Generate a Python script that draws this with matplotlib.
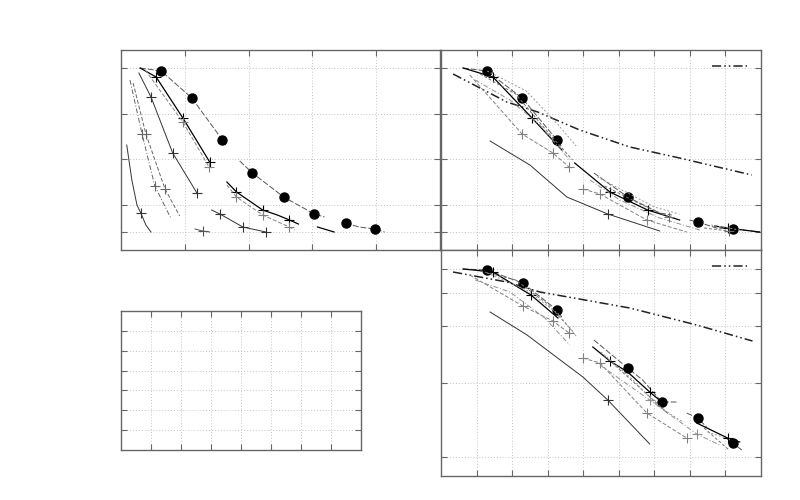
import numpy as np
import matplotlib
matplotlib.use("Agg")
import matplotlib.pyplot as plt

nan = np.nan

# ---------------- Panel A (top-left) ----------------
a_ticks_x = [1, 2, 3, 4]
a_ticks_y = [1.8, 4.5, 9.1, 13.6, 18.2]

a_dots_x = [0.30, 0.63, 1.11, 1.59, 1.64, nan, 1.86, 2.06, 2.55, 3.03, 3.19, nan, 3.52, 3.73, 3.98, 4.13]
a_dots_y = [18.2, 17.9, 15.2, 11.0, 10.5, nan, 8.9, 7.7, 5.3, 3.6, 3.3, nan, 2.7, 2.3, 2.1, 1.8]
a_dots_mk = [1, 2, 3, 7, 8, 9, 12, 14]

a_s2_x = [0.30, 0.55, 0.97, 1.39, nan, 1.66, 1.81, 2.22, 2.45, 2.64, 2.78, nan, 3.08, 3.34]
a_s2_y = [18.2, 17.3, 13.2, 8.8, nan, 6.8, 5.8, 4.0, 3.5, 3.0, 2.6, nan, 2.3, 1.8]
a_s2_mk = [1, 2, 3, 6, 7, 9]

a_s3_x = [0.38, 0.97, 1.38, nan, 1.66, 1.81, 2.22, 2.64, 2.72]
a_s3_y = [18.0, 12.8, 8.3, nan, 6.5, 5.3, 3.5, 2.3, 2.0]
a_s3_mk = [1, 2, 5, 6, 7]

a_s4_x = [0.28, 0.47, 0.81, 1.19, 1.20, nan, 1.42, 1.55, 1.91, 2.27]
a_s4_y = [17.7, 15.3, 9.7, 5.7, 5.5, nan, 4.0, 3.6, 2.3, 1.8]
a_s4_mk = [1, 2, 3, 7, 8, 9]

a_s4b_x = [1.16, 1.28, 1.39]
a_s4b_y = [2.1, 1.9, 1.8]

a_s5_x = [0.14, 0.33, 0.53, 0.78]
a_s5_y = [17.0, 11.6, 6.4, 3.2]

a_s6_x = [0.19, 0.39, 0.69, 0.92]
a_s6_y = [16.7, 11.6, 6.1, 3.4]

a_s7_x = [0.09, 0.17, 0.25, 0.31, 0.39, 0.47]
a_s7_y = [10.5, 7.0, 4.5, 3.7, 2.5, 1.8]

# ---------------- Panel B (top-right) ----------------
b_ticks_x = [1, 2, 3, 4, 5, 6, 7, 8]
b_ticks_y = [1.8, 4.5, 9.1, 13.6, 18.2]

b_ref_x = [0.34, 1.85, 2.72, 3.90, 5.31, 6.71, 8.74]
b_ref_y = [17.6, 14.8, 13.8, 12.0, 10.3, 9.2, 7.5]

b_dots_x = [0.62, 1.29, 2.28, 3.26, 3.40, nan, 4.30, 5.25, 6.15, 6.49, nan, 6.99, 7.22, 7.75, 8.20, 8.96]
b_dots_y = [18.2, 17.9, 15.2, 11.0, 10.3, nan, 7.7, 5.3, 3.7, 3.5, nan, 3.0, 2.8, 2.2, 2.1, 1.8]
b_dots_mk = [1, 2, 3, 7, 12, 14]

b_s2_x = [0.62, 1.46, 2.56, 3.40, nan, 3.76, 4.75, 5.81, 6.71, nan, 7.70, 8.06, 8.96]
b_s2_y = [18.2, 17.3, 13.2, 10.0, nan, 8.7, 5.8, 4.0, 3.0, nan, 2.4, 2.2, 1.8]
b_s2_mk = [1, 2, 6, 7, 11]

b_g1_x = [0.81, 2.28, 3.15, 3.60, nan, 3.99, 4.47, 5.79, 6.91]
b_g1_y = [17.5, 11.6, 9.7, 8.3, nan, 6.1, 5.6, 3.0, 1.8]
b_g1_mk = [1, 2, 3, 5, 6, 7]

b_g2_x = [0.96, 1.94, 2.78, 3.62, nan, 4.19, 5.03, 6.15, 7.28]
b_g2_y = [17.0, 15.0, 12.5, 9.0, nan, 7.0, 5.0, 3.2, 2.0]

b_g3_x = [1.10, 2.10, 3.00, 3.70, nan, 4.60, 5.60, 6.40, nan, 7.40, 8.10]
b_g3_y = [17.6, 15.6, 11.8, 9.0, nan, 6.4, 4.6, 3.3, nan, 2.2, 1.9]
b_g3_mk = [7, 10]

b_g4_x = [1.30, 2.40, 3.30, 3.80, nan, 4.40, 5.20, 6.00, 6.70, nan, 7.60, 8.40]
b_g4_y = [17.9, 15.9, 12.5, 10.4, nan, 7.3, 5.8, 4.3, 3.6, nan, 2.5, 2.0]

b_low_x = [1.38, 2.50, 3.54, 4.69, 6.15]
b_low_y = [10.9, 8.5, 5.3, 3.6, 1.9]

# ---------------- Panel C (bottom-right) ----------------
c_ticks_x = [1, 2, 3, 4, 5, 6, 7, 8]
c_ticks_y = [1.9, 9.3, 15.0, 18.3, 20.7]

c_ref_x = [0.34, 1.85, 2.78, 5.31, 7.19, 8.76]
c_ref_y = [20.4, 19.4, 18.4, 16.8, 15.1, 13.5]

c_dots_x = [0.62, 1.29, 2.30, 3.26, 3.40, nan, 4.30, 5.25, 5.67, 6.21, 6.66, nan, 6.91, 7.22, 7.47, nan, 7.98, 8.20, 8.46]
c_dots_y = [20.7, 20.6, 19.3, 16.6, 15.9, nan, 13.6, 10.8, 9.6, 7.4, 7.4, nan, 6.3, 5.8, 4.9, nan, 3.9, 3.3, 2.6]
c_dots_mk = [1, 2, 3, 7, 9, 13, 17]

c_s2_x = [0.62, 1.46, 2.53, 3.29, nan, 4.27, 4.75, 5.25, 5.87, 6.24, nan, 7.19, 8.06, 8.40]
c_s2_y = [20.7, 20.4, 18.1, 15.8, nan, 12.9, 11.5, 10.4, 8.4, 7.3, nan, 5.3, 3.8, 3.4]
c_s2_mk = [1, 2, 6, 8, 12]

c_g1_x = [0.81, 2.30, 3.15, 3.60, nan, 3.99, 4.47, 5.79, 6.91]
c_g1_y = [20.1, 17.0, 15.5, 14.3, nan, 11.8, 11.3, 6.3, 3.8]
c_g1_mk = [1, 2, 3, 5, 6, 7, 8]

c_g2_x = [0.96, 1.94, 2.92, 3.62, nan, 4.47, 5.87, 7.19, 7.84]
c_g2_y = [19.6, 18.4, 15.8, 13.1, nan, 11.1, 7.6, 4.2, 3.1]
c_g2_mk = [6, 7]

c_g3_x = [1.10, 2.10, 3.00, 3.70, nan, 4.60, 5.60, 6.40, nan, 7.40, 8.10]
c_g3_y = [20.5, 19.6, 17.2, 14.5, nan, 12.0, 8.8, 6.2, nan, 4.8, 2.6]

c_g4_x = [1.30, 2.40, 3.30, 3.80, nan, 4.50, 5.40, 6.10, 6.80, nan, 7.50, 8.00]
c_g4_y = [20.3, 18.6, 16.2, 14.0, nan, 12.4, 9.6, 7.0, 5.4, nan, 4.4, 3.8]

c_low_x = [1.38, 2.42, 3.99, 4.69, 5.87]
c_low_y = [16.4, 14.1, 9.9, 7.6, 3.2]

# ---------------- Panel D (empty) ----------------
d_ticks_x = [1, 2, 3, 4, 5, 6, 7]
d_ticks_y = [1, 2, 3, 4, 5, 6]

SPINE = "#666666"
GRID = "#c4c4c4"
LW = 0.7


def style(ax, xlim, ylim, xt, yt):
    ax.set_xlim(*xlim)
    ax.set_ylim(*ylim)
    ax.set_xticks(xt)
    ax.set_yticks(yt)
    ax.set_xticklabels([])
    ax.set_yticklabels([])
    ax.tick_params(direction="in", length=4, width=0.8, color=SPINE,
                   top=True, right=True, bottom=True, left=True)
    ax.grid(True, linestyle=(0, (1, 2)), color=GRID, linewidth=0.7)
    for s in ax.spines.values():
        s.set_color(SPINE)
        s.set_linewidth(1.0)
    ax.set_facecolor("white")


def dots(ax, x, y, mk):
    ax.plot(x, y, color="#555555", lw=LW, ls=(0, (6, 2)), marker="o",
            markevery=mk, ms=6.5, mfc="black", mec="black")


def plus(ax, x, y, mk, color="black", ls="-", lw=LW):
    ax.plot(x, y, color=color, lw=lw, ls=ls, marker="+", markevery=mk,
            ms=7, mew=0.8, mec=color)


fig = plt.figure(figsize=(8, 5), dpi=100)
fig.patch.set_facecolor("white")

axA = fig.add_axes([121 / 800, 0.5, 319 / 800, 0.4])
axB = fig.add_axes([441 / 800, 0.5, 320 / 800, 0.4])
axC = fig.add_axes([441 / 800, 24 / 500, 320 / 800, 226 / 500])
axD = fig.add_axes([121 / 800, 50 / 500, 240 / 800, 139 / 500])

# Panel A
style(axA, (0, 5), (0, 20), a_ticks_x, a_ticks_y)
dots(axA, a_dots_x, a_dots_y, a_dots_mk)
plus(axA, a_s2_x, a_s2_y, a_s2_mk, color="black", lw=0.9)
plus(axA, a_s3_x, a_s3_y, a_s3_mk, color="#808080", ls=(0, (4, 2)))
plus(axA, a_s4_x, a_s4_y, a_s4_mk, color="#333333")
plus(axA, a_s4b_x, a_s4b_y, [1], color="#555555")
plus(axA, a_s5_x, a_s5_y, [1, 2], color="#666666", ls=(0, (5, 2, 1, 2)))
plus(axA, a_s6_x, a_s6_y, [1, 2], color="#666666", ls=(0, (4, 2)))
plus(axA, a_s7_x, a_s7_y, [3], color="#333333")

# Panel B
style(axB, (0, 9), (0, 20), b_ticks_x, b_ticks_y)
axB.plot(b_ref_x, b_ref_y, color="#222222", lw=1.1, ls=(0, (6, 2, 1, 2, 1, 2)),
         label=" ")
dots(axB, b_dots_x, b_dots_y, b_dots_mk)
plus(axB, b_s2_x, b_s2_y, b_s2_mk, color="black", lw=0.9)
plus(axB, b_g1_x, b_g1_y, b_g1_mk, color="#808080", ls=(0, (4, 2)))
plus(axB, b_g2_x, b_g2_y, [], color="#909090", ls=(0, (5, 2, 1, 2)))
plus(axB, b_g3_x, b_g3_y, b_g3_mk, color="#707070", ls=(0, (3, 2)))
plus(axB, b_g4_x, b_g4_y, [], color="#999999", ls=(0, (2, 2)))
plus(axB, b_low_x, b_low_y, [3], color="#333333")
axB.legend(loc="upper right", frameon=False, handlelength=2.5,
           handletextpad=0.0, borderaxespad=0.3, fontsize=10)

# Panel C
style(axC, (0, 9), (0, 22.6), c_ticks_x, c_ticks_y)
axC.plot(c_ref_x, c_ref_y, color="#222222", lw=1.1, ls=(0, (6, 2, 1, 2, 1, 2)),
         label=" ")
dots(axC, c_dots_x, c_dots_y, c_dots_mk)
plus(axC, c_s2_x, c_s2_y, c_s2_mk, color="black", lw=0.9)
plus(axC, c_g1_x, c_g1_y, c_g1_mk, color="#808080", ls=(0, (4, 2)))
plus(axC, c_g2_x, c_g2_y, c_g2_mk, color="#909090", ls=(0, (5, 2, 1, 2)))
plus(axC, c_g3_x, c_g3_y, [], color="#707070", ls=(0, (3, 2)))
plus(axC, c_g4_x, c_g4_y, [], color="#999999", ls=(0, (2, 2)))
plus(axC, c_low_x, c_low_y, [3], color="#333333")
axC.legend(loc="upper right", frameon=False, handlelength=2.5,
           handletextpad=0.0, borderaxespad=0.3, fontsize=10)

# Panel D (empty)
style(axD, (0, 8), (0, 7), d_ticks_x, d_ticks_y)

fig.savefig("out.png", dpi=100, facecolor="white")
